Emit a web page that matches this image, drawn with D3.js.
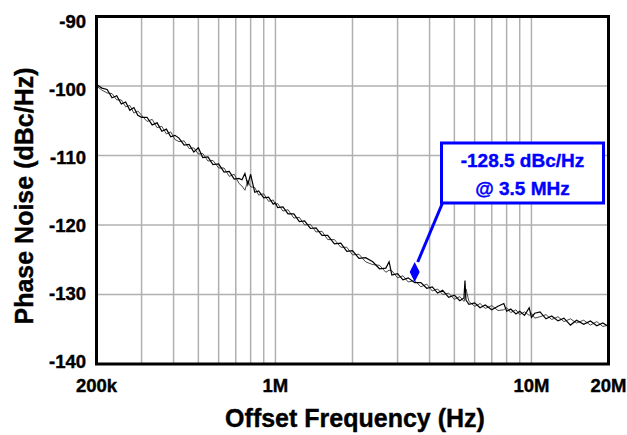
<!DOCTYPE html>
<html>
<head>
<meta charset="utf-8">
<script src="https://cdn.jsdelivr.net/npm/d3@7"></script>
<style>
  body { margin: 0; background: #fff; }
  svg { display: block; }
  text { font-family: "Liberation Sans", Arial, sans-serif; font-weight: bold; }
</style>
</head>
<body>
<svg id="chart" width="627" height="435"></svg>
<script>
(function () {

  "use strict";

  // offset frequencies in kHz
  var freqKHz = [200, 210, 220, 230, 240, 250, 260, 270, 280, 290,
    300, 315, 330, 345, 360, 375, 390, 405, 420, 440,
    460, 480, 500, 520, 545, 570, 600, 630, 660, 690,
    720, 740, 760, 780, 800, 830, 860, 900, 940, 980,
    1000, 1020, 1070, 1120, 1180, 1240, 1300, 1370, 1440, 1520,
    1600, 1700, 1800, 1900, 2000, 2120, 2250, 2400, 2550, 2700,
    2780, 2850, 3000, 3150, 3300, 3500, 3700, 3900, 4100, 4300,
    4500, 4750, 5000, 5250, 5450, 5500, 5550, 5700, 6000, 6300,
    6600, 7000, 7400, 7800, 8000, 8300, 8700, 9000, 9400, 9800,
    10000, 10300, 10800, 11400, 12000, 12700, 13400, 14200, 15000, 16000,
    17000, 18000, 19000, 20000];

  // first sweep (dBc/Hz)
  var traceA = [-99.8, -100.3, -100.5, -101.7, -101.4, -102.6, -102.3, -103.5, -103.1, -104.2,
    -104.5, -104.5, -105.6, -105.3, -106.5, -106.2, -107.3, -107.1, -107.5, -108.5,
    -108.4, -109.5, -108.9, -110.3, -110.2, -111.3, -111.2, -112.4, -112.3, -113.4,
    -113.3, -113.5, -112.6, -114.2, -112.7, -115.3, -115.1, -116.1, -116.0, -117.0,
    -116.8, -117.5, -117.4, -118.4, -118.4, -119.5, -119.4, -120.5, -120.4, -121.5,
    -121.5, -122.7, -122.6, -123.8, -123.7, -124.8, -124.7, -125.3, -126.3, -126.2,
    -125.3, -127.2, -127.0, -127.9, -127.6, -128.3, -128.3, -129.1, -128.9, -129.8,
    -129.4, -130.4, -130.1, -130.9, -130.5, -128.0, -130.8, -131.4, -131.2, -131.9,
    -131.5, -132.2, -131.7, -131.3, -132.4, -132.1, -132.8, -132.4, -133.0, -131.9,
    -133.3, -132.7, -132.5, -133.5, -133.1, -133.8, -133.4, -134.4, -133.7, -134.3,
    -133.8, -134.5, -134.1, -134.6];

  // second sweep (dBc/Hz)
  var traceB = [-100.0, -100.6, -101.0, -101.1, -102.0, -102.0, -103.0, -102.8, -103.9, -103.6,
    -104.2, -105.1, -104.8, -106.0, -105.8, -106.9, -106.6, -107.7, -108.0, -107.9,
    -109.0, -108.9, -109.8, -109.7, -110.8, -110.7, -111.8, -111.8, -113.0, -112.7,
    -114.0, -114.4, -115.0, -113.6, -114.5, -114.6, -115.7, -115.5, -116.6, -116.4,
    -117.1, -116.9, -118.0, -117.8, -119.0, -118.9, -120.0, -119.9, -121.0, -120.9,
    -122.1, -122.1, -123.2, -123.2, -124.3, -124.2, -125.3, -125.7, -125.8, -126.8,
    -126.5, -126.6, -127.6, -127.3, -128.2, -128.0, -128.9, -128.5, -129.5, -129.2,
    -130.0, -129.8, -130.7, -130.3, -131.0, -130.5, -129.2, -131.0, -131.7, -131.3,
    -132.0, -131.6, -132.3, -132.2, -131.9, -132.6, -132.2, -132.9, -132.5, -133.0,
    -132.7, -133.4, -133.2, -132.9, -133.6, -133.2, -133.9, -133.5, -134.1, -133.7,
    -134.4, -133.9, -134.6, -134.4];

  var xTickValues = [200e3, 1e6, 10e6, 20e6];
  var xTickLabels = ["200k", "1M", "10M", "20M"];
  var yTickValues = [-90, -100, -110, -120, -130, -140];

  var markerPoint = { freq: 3.5e6, value: -128.2 };
  var noteLines = ["-128.5 dBc/Hz", "@ 3.5 MHz"];

  var BLUE = "#0000ff";
  var plot = { left: 96.5, right: 608.5, top: 16.5, bottom: 364 };

  var svg = d3.select("#chart");

  var x = d3.scaleLog().domain([200e3, 20e6]).range([plot.left, plot.right]);
  var y = d3.scaleLinear().domain([-90, -140]).range([plot.top, plot.bottom]);
  // tick labels sit on a slightly tighter spread than the grid
  var yLabel = d3.scaleLinear().domain([-90, -140]).range([21.7, 361.7]);

  // grid
  var grid = svg.append("g").attr("stroke", "#b0b0b0").attr("stroke-width", 1.5);
  grid.selectAll("line.v")
    .data(x.ticks().filter(function (f) { return f > 200e3 && f < 20e6; }))
    .enter().append("line")
    .attr("class", "v")
    .attr("x1", function (f) { return x(f); })
    .attr("x2", function (f) { return x(f); })
    .attr("y1", plot.top)
    .attr("y2", plot.bottom);
  grid.selectAll("line.h")
    .data(yTickValues.slice(1, -1))
    .enter().append("line")
    .attr("class", "h")
    .attr("y1", function (v) { return y(v); })
    .attr("y2", function (v) { return y(v); })
    .attr("x1", plot.left)
    .attr("x2", plot.right);

  // traces
  function series(values) {
    return freqKHz.map(function (f, i) { return { freq: f * 1e3, value: values[i] }; });
  }
  var line = d3.line()
    .x(function (d) { return x(d.freq); })
    .y(function (d) { return y(d.value); });

  svg.append("path")
    .datum(series(traceB))
    .attr("fill", "none")
    .attr("stroke", "#333")
    .attr("stroke-width", 0.9)
    .attr("d", line);
  svg.append("path")
    .datum(series(traceA))
    .attr("fill", "none")
    .attr("stroke", "#000")
    .attr("stroke-width", 1.2)
    .attr("d", line);

  // frame
  svg.append("rect")
    .attr("x", plot.left)
    .attr("y", plot.top)
    .attr("width", plot.right - plot.left)
    .attr("height", plot.bottom - plot.top)
    .attr("fill", "none")
    .attr("stroke", "#000")
    .attr("stroke-width", 3);

  // tick labels (a thin stroke gives the heavier look of the original)
  svg.append("g").selectAll("text")
    .data(yTickValues)
    .enter().append("text")
    .attr("x", 86)
    .attr("y", function (v) { return yLabel(v); })
    .attr("dy", "0.36em")
    .attr("text-anchor", "end")
    .attr("font-size", 18.5)
    .attr("stroke", "#000")
    .attr("stroke-width", 0.4)
    .text(function (v) { return v; });

  svg.append("g").selectAll("text")
    .data(xTickValues)
    .enter().append("text")
    .attr("x", function (f) { return x(f); })
    .attr("y", 391.7)
    .attr("text-anchor", "middle")
    .attr("font-size", 18.5)
    .attr("stroke", "#000")
    .attr("stroke-width", 0.4)
    .text(function (f, i) { return xTickLabels[i]; });

  // axis titles
  svg.append("text")
    .attr("transform", "translate(33,196) rotate(-90)")
    .attr("text-anchor", "middle")
    .attr("font-size", 25)
    .attr("stroke", "#000")
    .attr("stroke-width", 0.4)
    .text("Phase Noise (dBc/Hz)");
  svg.append("text")
    .attr("x", 355)
    .attr("y", 427.3)
    .attr("text-anchor", "middle")
    .attr("font-size", 25)
    .attr("stroke", "#000")
    .attr("stroke-width", 0.4)
    .text("Offset Frequency (Hz)");

  // annotation
  var mx = x(markerPoint.freq), my = y(markerPoint.value);
  var box = { x: 441.5, y: 143, w: 162, h: 60 };

  svg.append("line")
    .attr("x1", box.x + 1)
    .attr("y1", box.y + box.h)
    .attr("x2", mx + 3)
    .attr("y2", my - 20)
    .attr("stroke", BLUE)
    .attr("stroke-width", 3);

  svg.append("path")
    .attr("d", "M" + mx + "," + my + "L" + (mx + 5) + "," + (my - 10) +
      "L" + mx + "," + (my - 20) + "L" + (mx - 5) + "," + (my - 10) + "Z")
    .attr("fill", BLUE);

  svg.append("rect")
    .attr("x", box.x)
    .attr("y", box.y)
    .attr("width", box.w)
    .attr("height", box.h)
    .attr("fill", "#fff")
    .attr("stroke", BLUE)
    .attr("stroke-width", 3);

  svg.append("g").selectAll("text")
    .data(noteLines)
    .enter().append("text")
    .attr("x", box.x + box.w / 2)
    .attr("y", function (d, i) { return box.y + 24 + i * 27.5; })
    .attr("text-anchor", "middle")
    .attr("font-size", 19)
    .attr("fill", BLUE)
    .attr("stroke", BLUE)
    .attr("stroke-width", 0.4)
    .text(function (d) { return d; });

}());
</script>
</body>
</html>
